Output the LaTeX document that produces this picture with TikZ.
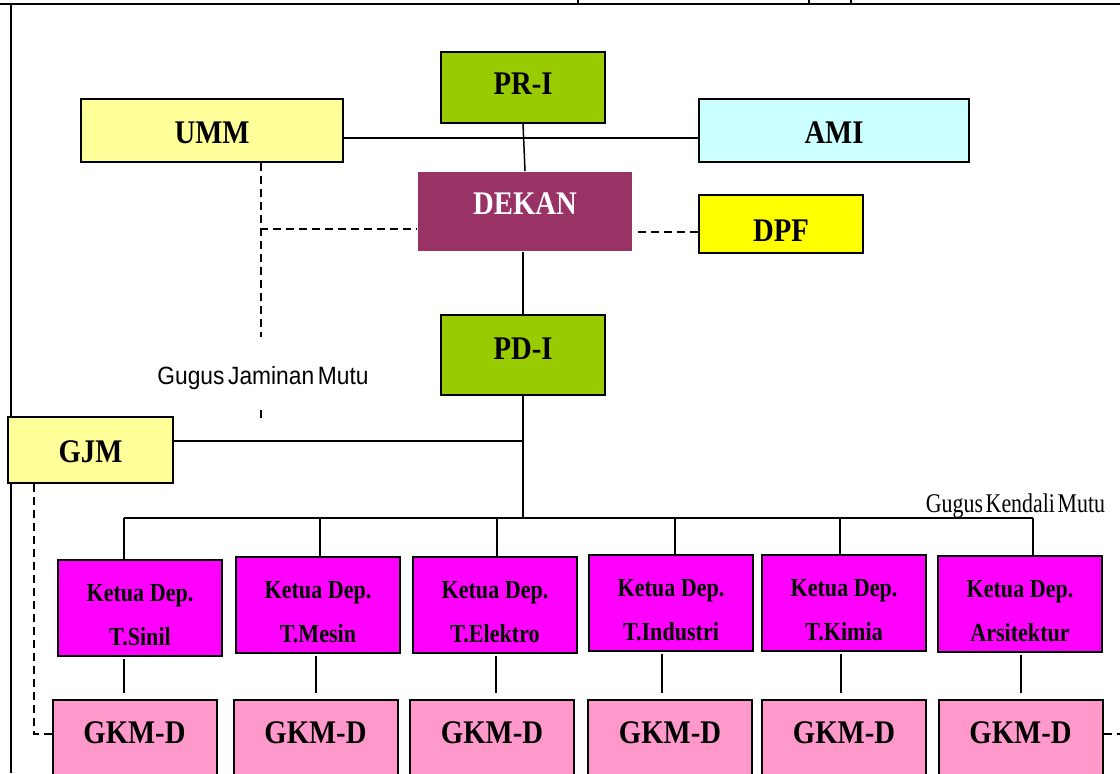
\documentclass[tikz,border=0pt]{standalone}
\usepackage{fontspec}
\setmainfont{Liberation Serif}
\newfontfamily\boxfont[FakeStretch=0.87]{Liberation Serif}
\newfontfamily\ketfont[FakeStretch=0.85]{Liberation Serif}
\newfontfamily\jfont[FakeStretch=0.91, WordSpace=0.6]{Liberation Sans}
\newfontfamily\kfont[FakeStretch=0.81, WordSpace=0.5]{Liberation Serif}
\newcommand{\ketuatext}[1]{\rule{0pt}{16pt}Ketua Dep.\\#1}
\definecolor{prgreen}{HTML}{99CC00}
\definecolor{lyellow}{HTML}{FFFF99}
\definecolor{lcyan}{HTML}{CCFFFF}
\definecolor{dekanc}{HTML}{993366}
\definecolor{dpfc}{HTML}{FFFF00}
\definecolor{ketuac}{HTML}{FF00FF}
\definecolor{gkmc}{HTML}{FF99CC}
\begin{document}
\begin{tikzpicture}[x=0.5pt,y=-0.5pt,
  boxbase/.style={draw=black, line width=1pt, inner sep=0pt, rectangle},
  bigbox/.style={boxbase, font=\boxfont\bfseries\fontsize{16.5}{18}\selectfont, text height=10.9pt, text depth=0pt},
  kbox/.style={boxbase, fill=ketuac, minimum width=82pt, minimum height=48pt, align=center, font=\ketfont\bfseries\fontsize{13}{22}\selectfont},
  gbox/.style={bigbox, fill=gkmc, minimum width=82pt, minimum height=45pt, text depth=12pt},
  conn/.style={draw=black, line width=0.75pt},
  dsh/.style={draw=black, line width=0.75pt, dash pattern=on 4pt off 2.5pt}]
\clip (0,0) rectangle (1120,773);
\fill[white] (0,0) rectangle (1120,773);
% frame
\draw[line width=1pt] (0,4) -- (1120,4);
\draw[line width=0.75pt] (578,0) -- (578,4) (809,0) -- (809,4) (851,0) -- (851,4);
\draw[line width=0.75pt] (11,4) -- (11,773);
% top nodes
\node[bigbox, fill=prgreen, minimum width=82pt, minimum height=35.5pt, text depth=3pt] (pr) at (523,87) {PR-I};
\node[bigbox, fill=lyellow, minimum width=131pt, minimum height=31.5pt, text height=13.4pt] (umm) at (212,130.5) {UMM};
\node[bigbox, fill=lcyan, minimum width=135pt, minimum height=31.5pt, text height=13.4pt] (ami) at (834,130.5) {AMI};
\node[bigbox, draw=none, fill=dekanc, text=white, minimum width=107pt, minimum height=39.5pt, text depth=7.5pt] (dekan) at (525,211.5) {DEKAN};
\node[bigbox, fill=dpfc, minimum width=82pt, minimum height=29pt, text height=17.9pt] (dpf) at (781,224) {DPF};
\node[bigbox, fill=prgreen, minimum width=82pt, minimum height=40pt, text depth=6pt] (pd) at (523,355) {PD-I};
\node[bigbox, fill=lyellow, minimum width=82.5pt, minimum height=33pt, text height=12.4pt] (gjm) at (90.5,450) {GJM};
% Ketua boxes
\node[kbox] (k1) at (140,608) {\ketuatext{T.Sinil}};
\node[kbox] (k2) at (318,604.5) {\ketuatext{T.Mesin}};
\node[kbox] (k3) at (495,605) {\ketuatext{T.Elektro}};
\node[kbox] (k4) at (671,603) {\ketuatext{T.Industri}};
\node[kbox] (k5) at (844,603) {\ketuatext{T.Kimia}};
\node[kbox] (k6) at (1020,604) {\ketuatext{Arsitektur}};
% GKM-D boxes
\node[gbox] (g1) at (134.5,745) {GKM-D};
\node[gbox] (g2) at (315.5,745) {GKM-D};
\node[gbox] (g3) at (492,745) {GKM-D};
\node[gbox] (g4) at (670,745) {GKM-D};
\node[gbox] (g5) at (844,745) {GKM-D};
\node[gbox] (g6) at (1020.5,745) {GKM-D};
% coordinates
\coordinate (jx) at (260,229);
\coordinate (jend) at (261,420);
\coordinate (busc) at (523,518);
\coordinate (d1) at (124,518);
\coordinate (d2) at (320,518);
\coordinate (d3) at (497,518);
\coordinate (d4) at (675,518);
\coordinate (d5) at (840,518);
\coordinate (d6) at (1033,518);
\coordinate (e1) at (124,0);
\coordinate (e2) at (316,0);
\coordinate (e3) at (496,0);
\coordinate (e4) at (662,0);
\coordinate (e5) at (841,0);
\coordinate (e6) at (1021,0);
\coordinate (gd) at (34,734);
\coordinate (rd) at (1120,734);
% connectors
\draw[conn] ([yshift=-3.75pt]umm.east) -- ([yshift=-3.75pt]ami.west);
\draw[conn] (pr.south) -- (dekan.north);
\draw[conn] (dekan.south -| pd.north) -- (pd.north);
\draw[dsh] (jx) -- (jx -| dekan.west);
\draw[dsh] (umm.south -| jend) -- (jend);
\draw[dsh, shorten <=2.5pt] ([yshift=-4pt]dpf.west -| dekan.east) -- ([yshift=-4pt]dpf.west);
\draw[conn] (pd.south) -- (busc);
\draw[conn] (d1) -- (d6);
\foreach \i in {1,...,6}{
  \draw[conn] (d\i) -- (d\i |- k\i.north);
  \draw[conn, shorten <=1pt, shorten >=3pt] (e\i |- k\i.south) -- (e\i |- g\i.north);
}
\draw[dsh] (gd |- gjm.south) -- (gd) -- (gd -| g1.west);
\draw[dsh] (g6.east |- rd) -- (rd);
\draw[conn] ([yshift=4.5pt]gjm.east) -- ([yshift=4.5pt]gjm.east -| pd.south);
% labels
\node[font=\jfont\fontsize{12.5}{14}\selectfont, fill=white, inner sep=0pt, text height=23.5pt, text depth=11.5pt, anchor=base] (gjmlabel) at (263,384) {Gugus Jaminan Mutu};
\node[font=\kfont\fontsize{13.5}{14}\selectfont, inner sep=0pt, anchor=base] (gkmlabel) at (1015.5,512) {Gugus Kendali Mutu};
\end{tikzpicture}
\end{document}
